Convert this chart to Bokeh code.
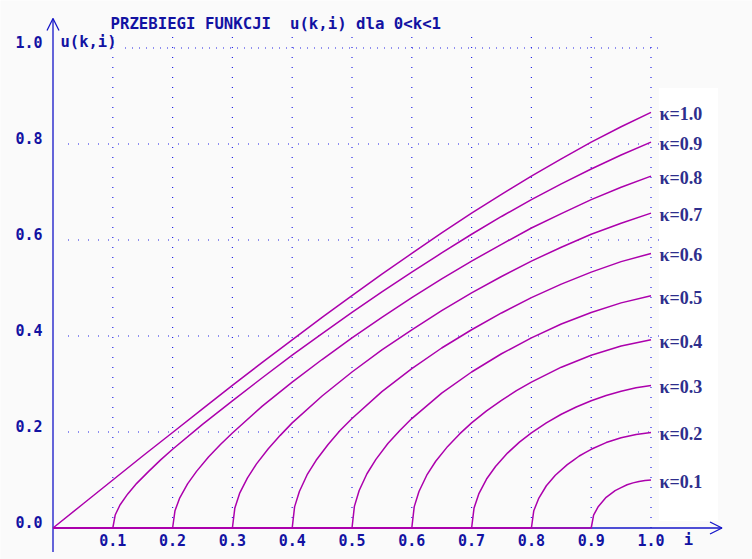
from bokeh.plotting import figure
from bokeh.models import Range1d, Arrow, OpenHead
from bokeh.core.properties import value
from bokeh.embed import file_html
from bokeh.resources import INLINE

# ---------------- data ----------------
k_values = [0.1, 0.2, 0.3, 0.4, 0.5, 0.6, 0.7, 0.8, 0.9, 1.0]

i_k01 = [0.0, 0.9, 0.904, 0.912, 0.925, 0.94, 0.95, 0.96, 0.97, 0.98, 0.99, 1.0]
u_k01 = [0.0, 0.0, 0.027, 0.045, 0.064, 0.078, 0.084, 0.090, 0.094, 0.097, 0.099, 0.100]

i_k02 = [0.0, 0.8, 0.804, 0.812, 0.825, 0.84, 0.86, 0.87, 0.88, 0.89, 0.9, 0.925, 0.95, 0.975, 1.0]
u_k02 = [0.0, 0.0, 0.036, 0.061, 0.088, 0.110, 0.132, 0.141, 0.150, 0.157, 0.164, 0.178, 0.188, 0.195, 0.199]

i_k03 = [0.0, 0.7, 0.704, 0.712, 0.725, 0.74, 0.76, 0.78, 0.8, 0.825, 0.85, 0.875, 0.9, 0.925, 0.95, 0.975, 1.0]
u_k03 = [0.0, 0.0, 0.041, 0.071, 0.102, 0.128, 0.156, 0.179, 0.198, 0.219, 0.237, 0.252, 0.265, 0.276, 0.285, 0.292, 0.297]

i_k04 = [0.0, 0.6, 0.604, 0.612, 0.625, 0.64, 0.66, 0.68, 0.7, 0.725, 0.75, 0.775, 0.8, 0.85, 0.9, 0.95, 1.0]
u_k04 = [0.0, 0.0, 0.044, 0.076, 0.110, 0.139, 0.170, 0.196, 0.219, 0.244, 0.266, 0.286, 0.304, 0.335, 0.360, 0.379, 0.392]

i_k05 = [0.0, 0.5, 0.504, 0.512, 0.525, 0.54, 0.56, 0.58, 0.6, 0.65, 0.7, 0.75, 0.8, 0.85, 0.9, 0.95, 1.0]
u_k05 = [0.0, 0.0, 0.045, 0.078, 0.113, 0.143, 0.176, 0.203, 0.228, 0.281, 0.325, 0.363, 0.396, 0.425, 0.449, 0.469, 0.484]

i_k06 = [0.0, 0.4, 0.404, 0.412, 0.425, 0.44, 0.46, 0.48, 0.5, 0.55, 0.6, 0.65, 0.7, 0.75, 0.8, 0.85, 0.9, 0.95, 1.0]
u_k06 = [0.0, 0.0, 0.044, 0.076, 0.111, 0.141, 0.174, 0.203, 0.228, 0.284, 0.332, 0.375, 0.413, 0.448, 0.480, 0.508, 0.533, 0.555, 0.572]

i_k07 = [0.0, 0.3, 0.304, 0.312, 0.325, 0.34, 0.36, 0.38, 0.4, 0.45, 0.5, 0.55, 0.6, 0.65, 0.7, 0.75, 0.8, 0.85, 0.9, 0.95, 1.0]
u_k07 = [0.0, 0.0, 0.041, 0.072, 0.104, 0.133, 0.165, 0.193, 0.219, 0.275, 0.325, 0.371, 0.413, 0.453, 0.490, 0.524, 0.556, 0.585, 0.612, 0.635, 0.656]

i_k08 = [0.0, 0.2, 0.204, 0.212, 0.225, 0.24, 0.26, 0.28, 0.3, 0.35, 0.4, 0.45, 0.5, 0.55, 0.6, 0.65, 0.7, 0.75, 0.8, 0.85, 0.9, 0.95, 1.0]
u_k08 = [0.0, 0.0, 0.036, 0.063, 0.092, 0.118, 0.148, 0.174, 0.198, 0.254, 0.304, 0.351, 0.396, 0.439, 0.480, 0.519, 0.556, 0.591, 0.625, 0.655, 0.684, 0.710, 0.733]

i_k09 = [0.0, 0.1, 0.104, 0.112, 0.125, 0.14, 0.16, 0.18, 0.2, 0.25, 0.3, 0.35, 0.4, 0.45, 0.5, 0.55, 0.6, 0.65, 0.7, 0.75, 0.8, 0.85, 0.9, 0.95, 1.0]
u_k09 = [0.0, 0.0, 0.027, 0.048, 0.071, 0.093, 0.118, 0.142, 0.164, 0.216, 0.265, 0.313, 0.360, 0.405, 0.449, 0.492, 0.533, 0.573, 0.612, 0.649, 0.684, 0.717, 0.748, 0.777, 0.804]

i_k10 = [0.0, 0.05, 0.1, 0.15, 0.2, 0.25, 0.3, 0.35, 0.4, 0.45, 0.5, 0.55, 0.6, 0.65, 0.7, 0.75, 0.8, 0.85, 0.9, 0.95, 1.0]
u_k10 = [0.0, 0.050, 0.100, 0.150, 0.199, 0.248, 0.297, 0.345, 0.392, 0.439, 0.484, 0.529, 0.572, 0.615, 0.656, 0.695, 0.733, 0.769, 0.804, 0.836, 0.866]

x_ticks = [0.1, 0.2, 0.3, 0.4, 0.5, 0.6, 0.7, 0.8, 0.9, 1.0]
y_ticks = [0.0, 0.2, 0.4, 0.6, 0.8, 1.0]
x_tick_labels = ["0.1", "0.2", "0.3", "0.4", "0.5", "0.6", "0.7", "0.8", "0.9", "1.0"]
y_tick_labels = ["0.0", "0.2", "0.4", "0.6", "0.8", "1.0"]

title_text = "PRZEBIEGI FUNKCJI\u00a0 u(k,i) dla 0<k<1"
y_name = "u(k,i)"
x_name = "i"

curves_i = [i_k01, i_k02, i_k03, i_k04, i_k05, i_k06, i_k07, i_k08, i_k09, i_k10]
curves_u = [u_k01, u_k02, u_k03, u_k04, u_k05, u_k06, u_k07, u_k08, u_k09, u_k10]

# ---------------- styling ----------------
W, H = 752, 559
PX_X = 598.0   # pixels per unit of i
PX_Y = 480.0   # pixels per unit of u
X0 = 52.5      # canvas x of i = 0
Y0 = 527.5     # canvas y of u = 0

CURVE = "#ac00ac"
AXIS = "#1414c8"
GRID = "#2323e6"
TXT = "#1212a2"
KTXT = "#2e2e8c"
BG = "#fafafa"
MONO = "DejaVu Sans Mono"

p = figure(width=W, height=H, output_backend="svg", toolbar_location=None,
           x_axis_type=None, y_axis_type=None,
           x_range=Range1d(-X0 / PX_X, (W - X0) / PX_X),
           y_range=Range1d((Y0 - H) / PX_Y, Y0 / PX_Y),
           min_border=0, min_border_left=0, min_border_right=0,
           min_border_top=0, min_border_bottom=0)
p.outline_line_color = None
p.background_fill_color = BG
p.border_fill_color = BG
p.xgrid.visible = False
p.ygrid.visible = False

# white panel behind the curve labels
p.quad(left=1.0 + 8 / PX_X, right=1.0 + 67 / PX_X, bottom=7 / PX_Y, top=1.0 - 40 / PX_Y,
       fill_color="white", line_color=None)

# dotted grid
p.segment(x0=x_ticks, y0=[0.0] * len(x_ticks), x1=x_ticks, y1=[1.0 + 15 / PX_Y] * len(x_ticks),
          line_color=GRID, line_width=1.2, line_dash="1 9")
hy = [v for v in y_ticks if 0 < v < 1.0]
p.segment(x0=[15 / PX_X] * len(hy), y0=hy, x1=[1.0 + 11 / PX_X] * len(hy), y1=hy,
          line_color=GRID, line_width=1.2, line_dash="1 9")
p.segment(x0=[72 / PX_X], y0=[1.0], x1=[1.0 + 11 / PX_X], y1=[1.0],
          line_color=GRID, line_width=1.2, line_dash="1 6")

# axes with arrows
y_top = 1.0 + 29.5 / PX_Y
x_right = 1.0 + 71 / PX_X
p.segment(x0=[0.0], y0=[-24 / PX_Y], x1=[0.0], y1=[y_top], line_color=AXIS, line_width=1.3)
p.segment(x0=[0.0], y0=[0.0], x1=[x_right], y1=[0.0], line_color=AXIS, line_width=1.3)
p.add_layout(Arrow(end=OpenHead(size=12, line_color=AXIS, line_width=1.3), line_alpha=0,
                   x_start=0.0, y_start=y_top - 0.05, x_end=0.0, y_end=y_top))
p.add_layout(Arrow(end=OpenHead(size=12, line_color=AXIS, line_width=1.3), line_alpha=0,
                   x_start=x_right - 0.05, y_start=0.0, x_end=x_right, y_end=0.0))

# curves
for ii, uu in zip(curves_i, curves_u):
    p.line(ii, uu, line_color=CURVE, line_width=1.5)

# curve labels
k_labels = ["\u03ba=%.1f" % k for k in k_values]
k_y = [uu[-1] - 2.0 / PX_Y for uu in curves_u]
p.text(x=[1.0 + 8.5 / PX_X] * len(k_values), y=k_y, text=k_labels,
       text_font=value("Liberation Serif"), text_font_style="bold", text_font_size="18px",
       text_color=KTXT, text_align="left", text_baseline="middle")

# tick labels
p.text(x=[-10.5 / PX_X] * len(y_ticks), y=[v + 6.5 / PX_Y for v in y_ticks], text=y_tick_labels,
       text_font=value(MONO), text_font_style="bold", text_font_size="15px",
       text_color=TXT, text_align="right", text_baseline="middle")
p.text(x=x_ticks, y=[-11.5 / PX_Y] * len(x_ticks), text=x_tick_labels,
       text_font=value(MONO), text_font_style="bold", text_font_size="15px",
       text_color=TXT, text_align="center", text_baseline="middle")

# title and axis names
p.text(x=[57.5 / PX_X], y=[1.0 + 25 / PX_Y], text=[title_text],
       text_font=value(MONO), text_font_style="bold", text_font_size="15.7px",
       text_color=TXT, text_align="left", text_baseline="middle")
p.text(x=[7.5 / PX_X], y=[1.0 + 6 / PX_Y], text=[y_name],
       text_font=value(MONO), text_font_style="bold", text_font_size="15.5px",
       text_color=TXT, text_align="left", text_baseline="middle")
p.text(x=[1.0 + 37.5 / PX_X], y=[-11.5 / PX_Y], text=[x_name],
       text_font=value(MONO), text_font_style="bold", text_font_size="15.5px",
       text_color=TXT, text_align="center", text_baseline="middle")

open("out.html", "w").write(file_html(p, INLINE))
